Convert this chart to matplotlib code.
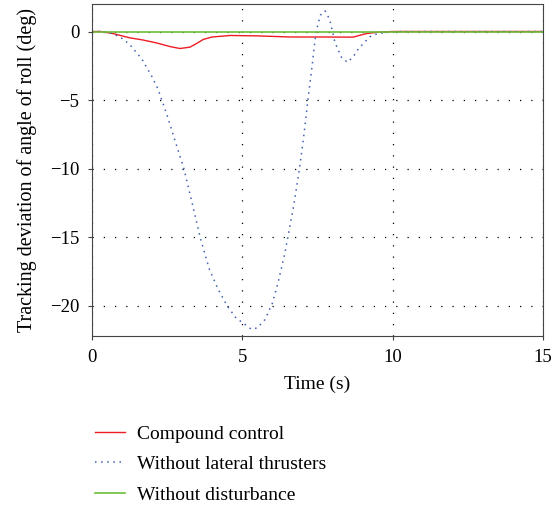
import matplotlib
matplotlib.use('Agg')
import matplotlib.pyplot as plt

plt.rcParams['font.family'] = ['Liberation Serif', 'DejaVu Serif']

# Time axis values (s) and tracking deviation (deg)
t_blue = [0, 0.3, 0.7, 1.0, 1.26, 1.66, 2.0, 2.2, 2.5, 2.8, 3.06, 3.3, 3.6, 3.9,
          4.2, 4.5, 4.8, 5.0, 5.3, 5.5, 5.75, 6.0, 6.2, 6.42, 6.7, 6.9, 7.05,
          7.18, 7.32, 7.45, 7.6, 7.75, 7.9, 8.08, 8.3, 8.5, 8.7, 8.85, 9.05,
          9.25, 9.5, 9.9, 10.2, 15]
y_blue = [0, 0, -0.15, -0.5, -0.95, -2.0, -3.3, -4.2, -6.1, -8.2, -10, -12.2,
          -15, -17.3, -18.8, -20, -20.9, -21.2, -21.7, -21.6, -21.0, -19.8,
          -18.2, -16.1, -12.8, -10, -7.5, -5, -2.5, 0, 1.2, 1.5, 0.9, -0.8,
          -1.9, -2.25, -1.8, -1.3, -0.8, -0.37, -0.15, -0.05, 0, 0]

t_red = [0, 0.3, 0.7, 1.26, 1.7, 2.15, 2.6, 2.93, 3.26, 3.5, 3.7, 4.0, 4.6,
         5.5, 6.6, 7.6, 8.68, 8.9, 9.13, 9.5, 10, 15]
y_red = [0, 0, -0.15, -0.46, -0.62, -0.83, -1.1, -1.24, -1.14, -0.85, -0.58,
         -0.4, -0.29, -0.32, -0.4, -0.4, -0.41, -0.28, -0.15, -0.05, 0, 0]

t_green = [0, 15]
y_green = [0, 0]

labels = ['Compound control', 'Without lateral thrusters', 'Without disturbance']

fig = plt.figure(figsize=(5.6, 5.07), dpi=100)
ax = fig.add_axes([0.164, 0.337, 0.806, 0.655])

ax.plot(t_red, y_red, color='#ee1c25', lw=1.0, label=labels[0])
ax.plot(t_blue, y_blue, color='#3f5fb0', lw=1.1, dashes=(1, 3), label=labels[1])
ax.plot(t_green, y_green, color='#6cbf3a', lw=1.2, label=labels[2])

ax.set_xlim(0, 15)
ax.set_ylim(-22.2, 2.0)
ax.set_xticks([0, 5, 10, 15])
ax.set_yticks([0, -5, -10, -15, -20])
ax.grid(True, color='black', lw=0.9, dashes=(1, 8))
ax.set_axisbelow(True)
ax.tick_params(labelsize=13.5, length=3, color='#444444', pad=6)
for s in ax.spines.values():
    s.set_color('#444444')

ax.set_xlabel('Time (s)', fontsize=14, labelpad=7)
ax.set_ylabel('Tracking deviation of angle of roll (deg)', fontsize=14.5, labelpad=9)

h, l = ax.get_legend_handles_labels()
fig.legend(h, l, loc='upper left', bbox_to_anchor=(0.138, 0.196),
           frameon=False, fontsize=14, handlelength=1.55, handletextpad=0.6,
           labelspacing=0.66)

plt.savefig('out.png', dpi=100)
